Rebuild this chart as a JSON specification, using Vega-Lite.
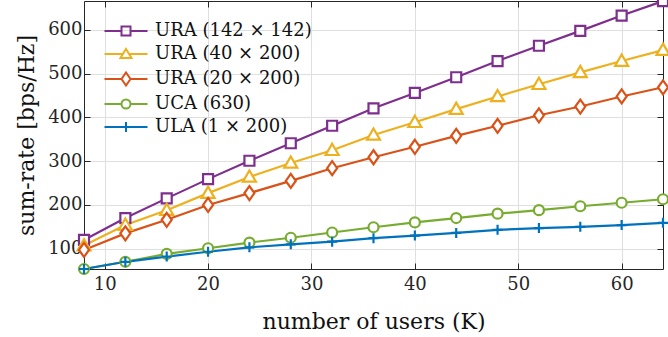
{
  "$schema": "https://vega.github.io/schema/vega-lite/v6.json",
  "autosize": "none",
  "width": 579,
  "height": 268,
  "padding": {"left": 84, "top": 1, "right": 5, "bottom": 68},
  "background": "white",
  "config": {
    "view": {"stroke": null},
    "font": "DejaVu Serif",
    "axis": {
      "labelFont": "DejaVu Serif",
      "labelFontSize": 18,
      "labelColor": "#262626",
      "titleFont": "DejaVu Serif",
      "titleFontSize": 22,
      "titleFontWeight": "normal",
      "titleColor": "#111",
      "domainColor": "#262626",
      "domainWidth": 1,
      "tickColor": "#262626",
      "tickSize": -6,
      "gridColor": "#dfdfdf",
      "gridWidth": 1
    },
    "legend": {
      "labelFont": "DejaVu Serif",
      "labelFontSize": 18,
      "labelColor": "#111"
    }
  },
  "data": {
    "values": [
      {"series": "URA (142 × 142)", "K": 8, "rate": 120},
      {"series": "URA (142 × 142)", "K": 12, "rate": 170},
      {"series": "URA (142 × 142)", "K": 16, "rate": 215},
      {"series": "URA (142 × 142)", "K": 20, "rate": 259},
      {"series": "URA (142 × 142)", "K": 24, "rate": 301},
      {"series": "URA (142 × 142)", "K": 28, "rate": 341},
      {"series": "URA (142 × 142)", "K": 32, "rate": 381},
      {"series": "URA (142 × 142)", "K": 36, "rate": 421},
      {"series": "URA (142 × 142)", "K": 40, "rate": 456},
      {"series": "URA (142 × 142)", "K": 44, "rate": 492},
      {"series": "URA (142 × 142)", "K": 48, "rate": 529},
      {"series": "URA (142 × 142)", "K": 52, "rate": 564},
      {"series": "URA (142 × 142)", "K": 56, "rate": 598},
      {"series": "URA (142 × 142)", "K": 60, "rate": 633},
      {"series": "URA (142 × 142)", "K": 64, "rate": 666},
      {"series": "URA (40 × 200)", "K": 8, "rate": 107},
      {"series": "URA (40 × 200)", "K": 12, "rate": 154},
      {"series": "URA (40 × 200)", "K": 16, "rate": 188},
      {"series": "URA (40 × 200)", "K": 20, "rate": 227},
      {"series": "URA (40 × 200)", "K": 24, "rate": 264},
      {"series": "URA (40 × 200)", "K": 28, "rate": 296},
      {"series": "URA (40 × 200)", "K": 32, "rate": 325},
      {"series": "URA (40 × 200)", "K": 36, "rate": 360},
      {"series": "URA (40 × 200)", "K": 40, "rate": 389},
      {"series": "URA (40 × 200)", "K": 44, "rate": 419},
      {"series": "URA (40 × 200)", "K": 48, "rate": 448},
      {"series": "URA (40 × 200)", "K": 52, "rate": 476},
      {"series": "URA (40 × 200)", "K": 56, "rate": 503},
      {"series": "URA (40 × 200)", "K": 60, "rate": 529},
      {"series": "URA (40 × 200)", "K": 64, "rate": 554},
      {"series": "URA (20 × 200)", "K": 8, "rate": 97},
      {"series": "URA (20 × 200)", "K": 12, "rate": 135},
      {"series": "URA (20 × 200)", "K": 16, "rate": 166},
      {"series": "URA (20 × 200)", "K": 20, "rate": 200},
      {"series": "URA (20 × 200)", "K": 24, "rate": 227},
      {"series": "URA (20 × 200)", "K": 28, "rate": 255},
      {"series": "URA (20 × 200)", "K": 32, "rate": 284},
      {"series": "URA (20 × 200)", "K": 36, "rate": 309},
      {"series": "URA (20 × 200)", "K": 40, "rate": 333},
      {"series": "URA (20 × 200)", "K": 44, "rate": 358},
      {"series": "URA (20 × 200)", "K": 48, "rate": 381},
      {"series": "URA (20 × 200)", "K": 52, "rate": 405},
      {"series": "URA (20 × 200)", "K": 56, "rate": 425},
      {"series": "URA (20 × 200)", "K": 60, "rate": 448},
      {"series": "URA (20 × 200)", "K": 64, "rate": 469},
      {"series": "UCA (630)", "K": 8, "rate": 53.5},
      {"series": "UCA (630)", "K": 12, "rate": 70},
      {"series": "UCA (630)", "K": 16, "rate": 88},
      {"series": "UCA (630)", "K": 20, "rate": 101},
      {"series": "UCA (630)", "K": 24, "rate": 114},
      {"series": "UCA (630)", "K": 28, "rate": 125},
      {"series": "UCA (630)", "K": 32, "rate": 137},
      {"series": "UCA (630)", "K": 36, "rate": 149},
      {"series": "UCA (630)", "K": 40, "rate": 160},
      {"series": "UCA (630)", "K": 44, "rate": 170},
      {"series": "UCA (630)", "K": 48, "rate": 180},
      {"series": "UCA (630)", "K": 52, "rate": 188},
      {"series": "UCA (630)", "K": 56, "rate": 197},
      {"series": "UCA (630)", "K": 60, "rate": 205},
      {"series": "UCA (630)", "K": 64, "rate": 213},
      {"series": "ULA (1 × 200)", "K": 8, "rate": 53.5},
      {"series": "ULA (1 × 200)", "K": 12, "rate": 70},
      {"series": "ULA (1 × 200)", "K": 16, "rate": 82},
      {"series": "ULA (1 × 200)", "K": 20, "rate": 93},
      {"series": "ULA (1 × 200)", "K": 24, "rate": 103},
      {"series": "ULA (1 × 200)", "K": 28, "rate": 110},
      {"series": "ULA (1 × 200)", "K": 32, "rate": 116},
      {"series": "ULA (1 × 200)", "K": 36, "rate": 124},
      {"series": "ULA (1 × 200)", "K": 40, "rate": 130},
      {"series": "ULA (1 × 200)", "K": 44, "rate": 136},
      {"series": "ULA (1 × 200)", "K": 48, "rate": 143},
      {"series": "ULA (1 × 200)", "K": 52, "rate": 147},
      {"series": "ULA (1 × 200)", "K": 56, "rate": 150},
      {"series": "ULA (1 × 200)", "K": 60, "rate": 154},
      {"series": "ULA (1 × 200)", "K": 64, "rate": 159}
    ]
  },
  "layer": [
    {
      "mark": {"type": "line", "strokeWidth": 2.2},
      "encoding": {
        "x": {
          "field": "K", "type": "quantitative",
          "scale": {"domain": [8, 64], "nice": false, "zero": false},
          "axis": {"orient": "bottom", "values": [10, 20, 30, 40, 50, 60], "title": "number of users (K)", "labelPadding": 12, "titlePadding": 18}
        },
        "y": {
          "field": "rate", "type": "quantitative",
          "scale": {"domain": [53.5, 666.3], "nice": false, "zero": false},
          "axis": {"orient": "left", "values": [100, 200, 300, 400, 500, 600], "title": "sum-rate [bps/Hz]", "labelPadding": 8, "titlePadding": 9}
        },
        "stroke": {
          "field": "series", "type": "nominal",
          "scale": {
            "domain": ["URA (142 × 142)", "URA (40 × 200)", "URA (20 × 200)", "UCA (630)", "ULA (1 × 200)"],
            "range": ["#7E2F8E", "#EDB120", "#D95319", "#77AC30", "#0072BD"]
          },
          "legend": {
            "title": null,
            "orient": "none",
            "legendX": 33,
            "legendY": 21,
            "padding": 0,
            "symbolSize": 100,
            "symbolStrokeWidth": 2,
            "labelOffset": 20,
            "rowPadding": 5,
            "encode": {
              "symbols": {
                "update": {
                  "shape": {"signal": "datum.value === 'URA (142 × 142)' ? 'M-4.3,0H-0.9M0.9,0H4.3M-0.9,-0.9H0.9V0.9H-0.9Z' : datum.value === 'URA (40 × 200)' ? 'M-4.3,0H-0.6M0.6,0H4.3M0,-1L1.1,0.8H-1.1Z' : datum.value === 'URA (20 × 200)' ? 'M-4.3,0H-0.9M0.9,0H4.3M0,-1.3L0.9,0L0,1.3L-0.9,0Z' : datum.value === 'UCA (630)' ? 'M-4.3,0H-0.9M0.9,0H4.3M0.9,0A0.9,0.9 0 1,1 -0.9,0A0.9,0.9 0 1,1 0.9,0' : 'M-4.3,0H4.3M0,-1V1'"},
                  "size": {"value": 100},
                  "strokeWidth": {"value": 2},
                  "fill": {"value": "transparent"}
                }
              }
            }
          }
        },
        "detail": {"field": "series"}
      }
    },
    {
      "transform": [{"filter": "datum.series === 'URA (142 × 142)'"}],
      "mark": {"type": "point", "shape": "M-1,-1H1V1H-1Z", "filled": false, "fill": "white", "fillOpacity": 1, "strokeWidth": 2.2, "size": 100, "opacity": 1},
      "encoding": {
        "x": {"field": "K", "type": "quantitative", "axis": {"orient": "top", "values": [10, 20, 30, 40, 50, 60], "labels": false, "grid": false, "title": null}},
        "y": {"field": "rate", "type": "quantitative", "axis": {"orient": "right", "values": [100, 200, 300, 400, 500, 600], "labels": false, "grid": false, "title": null}},
        "color": {"field": "series", "type": "nominal", "scale": {"domain": ["URA (142 × 142)", "URA (40 × 200)", "URA (20 × 200)", "UCA (630)", "ULA (1 × 200)"], "range": ["#7E2F8E", "#EDB120", "#D95319", "#77AC30", "#0072BD"]}, "legend": null}
      }
    },
    {
      "transform": [{"filter": "datum.series === 'URA (40 × 200)'"}],
      "mark": {"type": "point", "shape": "M0,-1.3L1.3,0.95H-1.3Z", "filled": false, "fill": "white", "fillOpacity": 1, "strokeWidth": 2.2, "size": 100, "opacity": 1},
      "encoding": {
        "x": {"field": "K", "type": "quantitative", "axis": null},
        "y": {"field": "rate", "type": "quantitative", "axis": null},
        "color": {"field": "series", "type": "nominal", "legend": null}
      }
    },
    {
      "transform": [{"filter": "datum.series === 'URA (20 × 200)'"}],
      "mark": {"type": "point", "shape": "M0,-1.4L1,0L0,1.4L-1,0Z", "filled": false, "fill": "white", "fillOpacity": 1, "strokeWidth": 2.2, "size": 100, "opacity": 1},
      "encoding": {
        "x": {"field": "K", "type": "quantitative", "axis": null},
        "y": {"field": "rate", "type": "quantitative", "axis": null},
        "color": {"field": "series", "type": "nominal", "legend": null}
      }
    },
    {
      "transform": [{"filter": "datum.series === 'UCA (630)'"}],
      "mark": {"type": "point", "shape": "M1,0A1,1 0 1,1 -1,0A1,1 0 1,1 1,0", "filled": false, "fill": "white", "fillOpacity": 1, "strokeWidth": 2.2, "size": 100, "opacity": 1},
      "encoding": {
        "x": {"field": "K", "type": "quantitative", "axis": null},
        "y": {"field": "rate", "type": "quantitative", "axis": null},
        "color": {"field": "series", "type": "nominal", "legend": null}
      }
    },
    {
      "transform": [{"filter": "datum.series === 'ULA (1 × 200)'"}],
      "mark": {"type": "point", "shape": "M-1,0H1M0,-1V1", "filled": false, "fill": "white", "fillOpacity": 1, "strokeWidth": 2.2, "size": 100, "opacity": 1},
      "encoding": {
        "x": {"field": "K", "type": "quantitative", "axis": null},
        "y": {"field": "rate", "type": "quantitative", "axis": null},
        "color": {"field": "series", "type": "nominal", "legend": null}
      }
    }
  ],
  "resolve": {"axis": {"x": "independent", "y": "independent"}}
}
